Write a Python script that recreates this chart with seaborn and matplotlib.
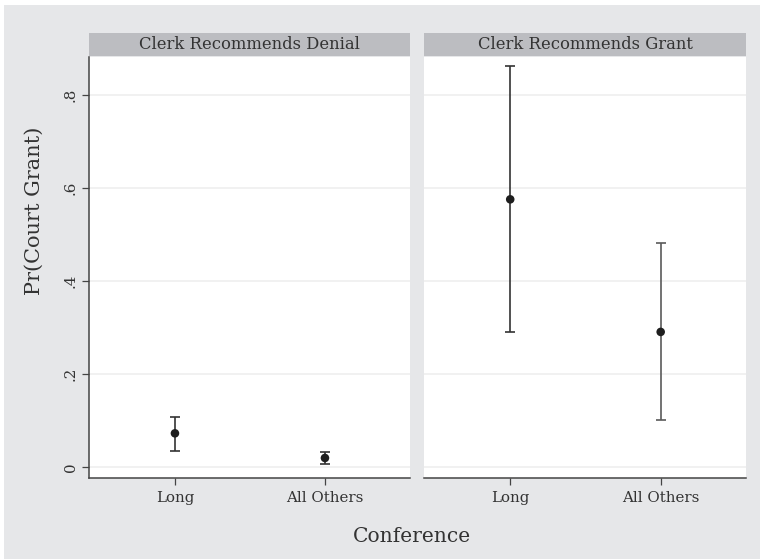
import pandas as pd
import matplotlib.pyplot as plt
import seaborn as sns
from matplotlib.patches import Rectangle
from matplotlib.ticker import FixedLocator, FixedFormatter

# Dados: estimativas e intervalos
painel = ["Clerk Recommends Denial", "Clerk Recommends Denial",
          "Clerk Recommends Grant", "Clerk Recommends Grant"]
conferencia = ["Long", "All Others", "Long", "All Others"]
estimativa = [0.073, 0.020, 0.576, 0.291]
limite_inf = [0.035, 0.008, 0.290, 0.102]
limite_sup = [0.109, 0.033, 0.863, 0.482]

paineis = ["Clerk Recommends Denial", "Clerk Recommends Grant"]
categorias = ["Long", "All Others"]
yticks = [0, 0.2, 0.4, 0.6, 0.8]
ytick_labels = ["0", ".2", ".4", ".6", ".8"]

df = pd.DataFrame({"painel": painel, "conf": conferencia, "est": estimativa,
                   "lo": limite_inf, "hi": limite_sup})

sns.set_theme(style="white")
plt.rcParams['font.family'] = ['DejaVu Serif']

fundo = "#e6e7e9"
faixa = "#bcbdc1"
tinta = "#333333"

fig = plt.figure(figsize=(7.6, 5.59), dpi=100, facecolor="white")
fig.patches.append(Rectangle((4 / 760, 0), 1, 1 - 5 / 559, transform=fig.transFigure,
                             facecolor=fundo, edgecolor="none", zorder=-10))

posicoes = [[89 / 760, 1 - 478.3 / 559, 321 / 760, 421.3 / 559],
            [424 / 760, 1 - 478.3 / 559, 322 / 760, 421.3 / 559]]

for i, nome in enumerate(paineis):
    ax = fig.add_axes(posicoes[i])
    ax.set_facecolor("white")
    sub = df[df["painel"] == nome]

    # pontos primeiro para fixar a ordem categórica
    sns.scatterplot(data=sub, x="conf", y="est", ax=ax, color="#1e1e1e",
                    s=38, edgecolor="none", zorder=3)
    for _, linha in sub.iterrows():
        cor = "#5a5a5a" if (i == 1 and linha["conf"] == "All Others") else tinta
        ax.errorbar([linha["conf"]], [linha["est"]],
                    yerr=[[linha["est"] - linha["lo"]], [linha["hi"] - linha["est"]]],
                    fmt="none", ecolor=cor, elinewidth=1.2, capsize=3.3,
                    capthick=1.2, zorder=2)

    ax.set_xlim(-0.573, 1.567)
    ax.set_ylim(-0.0237, 0.882)
    ax.yaxis.set_major_locator(FixedLocator(yticks))
    ax.yaxis.set_major_formatter(FixedFormatter(ytick_labels))
    ax.grid(axis="y", color="#efefef", linewidth=1.2)
    ax.grid(axis="x", visible=False)
    ax.set_axisbelow(True)
    ax.set_xlabel("")
    ax.set_ylabel("")

    for lado in ["top", "right"]:
        ax.spines[lado].set_visible(False)
    ax.spines["bottom"].set_color("#444444")
    ax.spines["bottom"].set_linewidth(1.1)
    ax.tick_params(axis="x", bottom=True, length=5, width=0.9, color="#444444",
                   labelsize=10.8, labelcolor=tinta, pad=4)

    if i == 0:
        ax.spines["left"].set_color("#444444")
        ax.spines["left"].set_linewidth(1.1)
        ax.tick_params(axis="y", left=True, length=5, width=0.9, color="#444444",
                       labelsize=10.8, labelcolor=tinta, pad=3)
        for t in ax.get_yticklabels():
            t.set_rotation(90)
            t.set_va("center")
    else:
        ax.spines["left"].set_visible(False)
        ax.tick_params(axis="y", left=False, labelleft=False)

    # faixa do título do painel
    ax.add_patch(Rectangle((0, 1.0025), 1, 0.0546, transform=ax.transAxes,
                           facecolor=faixa, edgecolor="none", clip_on=False))
    ax.text(0.5, 1.0025 + 0.0273, nome, transform=ax.transAxes, ha="center",
            va="center", fontsize=11.8, color=tinta)

fig.text(34 / 760, 1 - 211 / 559, "Pr(Court Grant)", rotation=90, ha="center",
         va="center", fontsize=15, color=tinta)
fig.text(412 / 760, 1 - 537 / 559, "Conference", ha="center", va="center",
         fontsize=14.6, color=tinta)

fig.savefig("out.png", dpi=100, facecolor=fig.get_facecolor())
